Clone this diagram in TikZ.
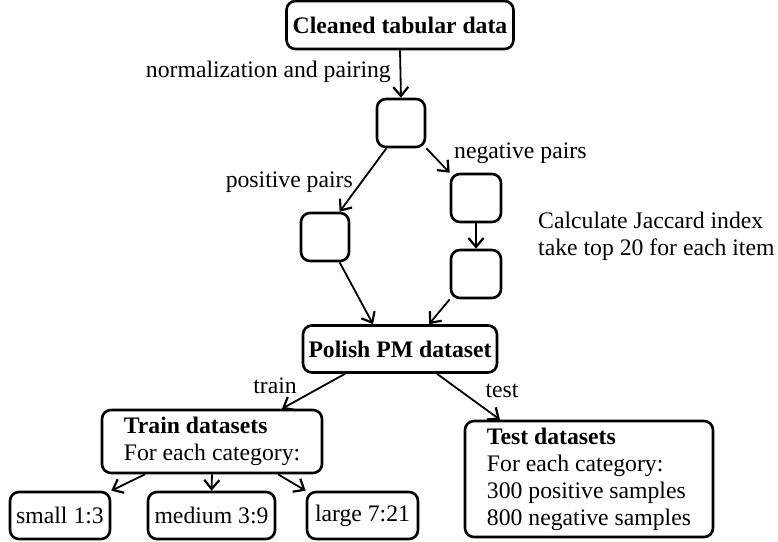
\documentclass[tikz,border=0pt]{standalone}
\usepackage{fontspec}
\setmainfont{Liberation Serif}
\usetikzlibrary{arrows.meta}
\usetikzlibrary{calc}
\usetikzlibrary{positioning}

\tikzset{
  box/.style={draw, line width=2.6pt, rounded corners=9pt, inner sep=0pt, align=center},
  pairbox/.style={box, minimum width=48pt, minimum height=48pt},
  infobox/.style={box, align=left},
  flow/.style={line width=1.8pt, -{Straight Barb[length=9pt,width=15pt,line width=2.2pt]}},
  lbl/.style={inner sep=0pt}
}

\begin{document}
\begin{tikzpicture}[x=1pt, y=-1pt, font=\fontsize{23.7}{27}\selectfont]

      \useasboundingbox (0,0) rectangle (778,541);

      % Source
      \node[box, minimum width=227pt, minimum height=48pt] (cleaned) at (400,25) {\textbf{Cleaned tabular data}};
      \node[pairbox] (pairing) at (401,123) {};

      % Pair boxes
      \node[pairbox] (pos) at (325,237) {};
      \node[pairbox, minimum width=50pt] (negA) at (476,198) {};
      \node[pairbox, minimum width=50pt] (negB) at (476,274) {};

      % Merged dataset
      \node[box, minimum width=194pt, minimum height=47pt] (polish) at (400,349) {\textbf{Polish PM dataset}};

      % Train / test
      \node[infobox, minimum width=220pt, minimum height=63pt] (train) at (212,441.5)
        {\textbf{Train datasets}\\For each category:};
      \node[infobox, minimum width=248pt, minimum height=116pt] (test) at (589,479)
        {\textbf{Test datasets}\\For each category:\\300 positive samples\\800 negative samples};

      % Categories
      \node[box, minimum width=100pt, minimum height=47pt] (small) at (60,515.5) {small 1:3};
      \node[box, minimum width=127pt, minimum height=47pt] (medium) at (211.5,515.5) {medium 3:9};
      \node[box, minimum width=111pt, minimum height=47pt] (large) at (362.5,515.5) {large 7:21};

      % Labels
      \node[lbl, anchor=east] (normlbl) at (391,72) {normalization and pairing};
      \node[lbl, anchor=east] (poslbl) at (353,182) {positive pairs};
      \node[lbl, anchor=west] (neglbl) at (454,153) {negative pairs};
      \node[lbl, anchor=west, align=left] (jaccard) at (538,236)
        {Calculate Jaccard index\\take top 20 for each item};
      \node[lbl] (trainlbl) at (275,386) {train};
      \node[lbl] (testlbl) at (502,391) {test};

      % Arrows
      \draw[flow] (cleaned.south) -- (pairing.north);
      \draw[flow] (pairing.-120) -- (pos.60);
      \draw[flow] (pairing.south east) -- (negA.north west);
      \draw[flow] (negA.south) -- (negB.north);
      \draw[flow] (pos.-60) -- ($(polish.north)+(-27,0)$);
      \draw[flow] (negB.south west) -- ($(polish.north)+(29,0)$);
      \draw[flow] ($(polish.south)+(-55,0)$) -- ($(train.north)+(70,0)$);
      \draw[flow] ($(polish.south)+(37,0)$) -- ($(test.north)+(-89,0)$);
      \draw[flow] ($(train.south)+(-67,0)$) -- (small.north east);
      \draw[flow] (train.south) -- (medium.north);
      \draw[flow] ($(train.south)+(66,0)$) -- (large.north west);

  \end{tikzpicture}
\end{document}
